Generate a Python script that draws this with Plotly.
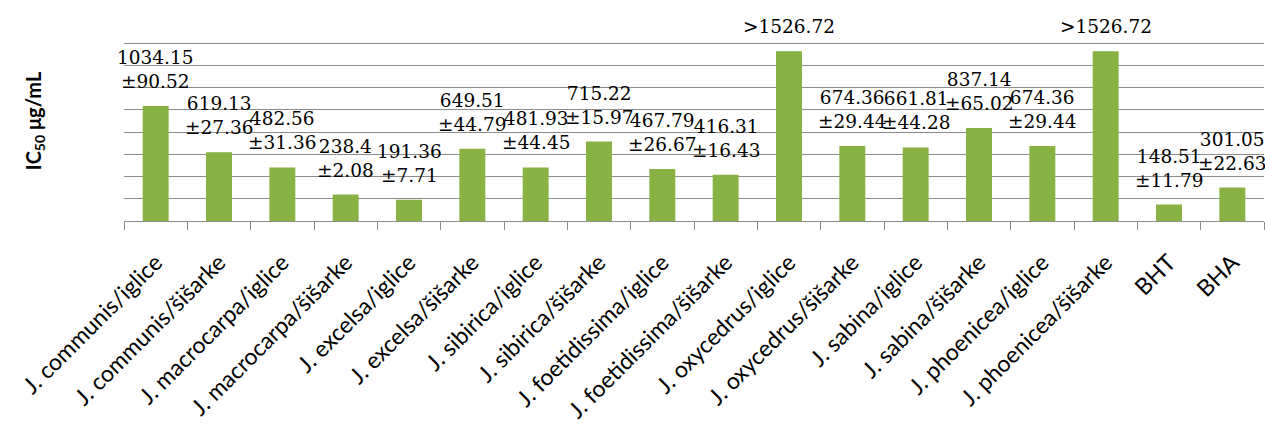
import plotly.graph_objects as go

categories = [
    "J. communis/iglice", "J. communis/šišarke", "J. macrocarpa/iglice",
    "J. macrocarpa/šišarke", "J. excelsa/iglice", "J. excelsa/šišarke",
    "J. sibirica/iglice", "J. sibirica/šišarke", "J. foetidissima/iglice",
    "J. foetidissima/šišarke", "J. oxycedrus/iglice", "J. oxycedrus/šišarke",
    "J. sabina/iglice", "J. sabina/šišarke", "J. phoenicea/iglice",
    "J. phoenicea/šišarke", "BHT", "BHA",
]
ic50 = [1034.15, 619.13, 482.56, 238.4, 191.36, 649.51, 481.93, 715.22, 467.79,
        416.31, 1526.72, 674.36, 661.81, 837.14, 674.36, 1526.72, 148.51, 301.05]
sd = [90.52, 27.36, 31.36, 2.08, 7.71, 44.79, 44.45, 15.97, 26.67,
      16.43, None, 29.44, 44.28, 65.02, 29.44, None, 11.79, 22.63]
lower_bound = [False] * 10 + [True] + [False] * 4 + [True] + [False, False]

labels = []
for v, s, lb in zip(ic50, sd, lower_bound):
    if lb:
        labels.append(">" + str(v))
    else:
        labels.append(f"{v}<br>±{s}")

fig = go.Figure()
fig.add_trace(go.Bar(
    x=categories, y=ic50,
    marker=dict(color="#88B244", line=dict(width=0)),
    width=0.41,
))

for c, v, t in zip(categories, ic50, labels):
    fig.add_annotation(
        x=c, y=v, text=t, showarrow=False, yanchor="bottom", xanchor="center",
        yshift=12, font=dict(family="DejaVu Serif", size=18.5, color="#000000"),
    )

fig.update_layout(
    width=1265, height=443,
    margin=dict(l=124, r=1, t=21, b=222),
    plot_bgcolor="white", paper_bgcolor="white",
    showlegend=False,
    font=dict(family="Lato", color="#000000"),
)
fig.update_yaxes(
    range=[0, 1800], dtick=200, showticklabels=False, automargin=False,
    showgrid=True, gridcolor="#8C8C8C", gridwidth=1,
    zeroline=False, showline=False, ticks="",
    title=dict(text="IC<sub>50</sub> μg/mL", standoff=76,
               font=dict(family="Lato", size=20, weight="bold")),
)
fig.update_xaxes(
    type="category", tickangle=-45, tickson="boundaries", automargin=False,
    range=[-0.5, 17.5],
    ticks="outside", ticklen=8, tickcolor="#8C8C8C",
    showline=True, linecolor="#8C8C8C", linewidth=1,
    tickfont=dict(family="Lato", size=23, color="#000000"),
    ticklabelstandoff=18, ticklabelshift=0,
    showgrid=False,
)

fig.write_html(
    "out.html",
    config={"displayModeBar": False},
    post_script="document.body.style.margin='0px';document.body.style.overflow='hidden';",
)
